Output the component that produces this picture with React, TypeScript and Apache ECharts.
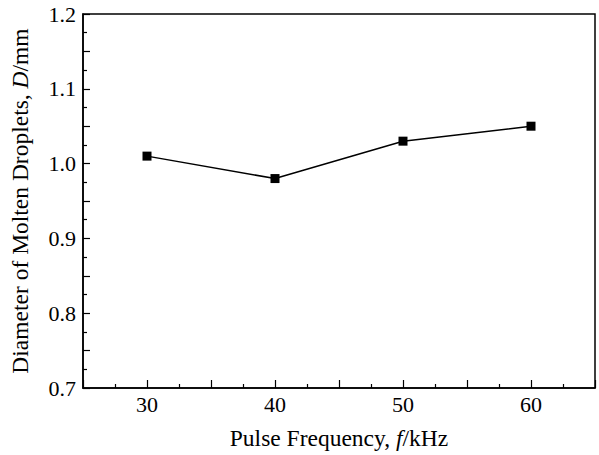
import React, { useEffect, useRef } from "react";
import * as echarts from "echarts";

const frequencies = [30, 40, 50, 60];
const diameters = [1.01, 0.98, 1.03, 1.05];
const xTitle = "Pulse Frequency, ";
const yTitle = "Diameter of Molten Droplets, ";

const FONT = '"Liberation Serif", "Times New Roman", serif';

export default function App() {
  const ref = useRef<HTMLDivElement>(null);
  useEffect(() => {
    if (!ref.current) return;
    const chart = echarts.init(ref.current, undefined, { renderer: "svg" });
    chart.setOption({
      animation: false,
      backgroundColor: "#fff",
      grid: {
        left: 83,
        right: 4,
        top: 14,
        bottom: 65,
        show: true,
        borderColor: "#000",
        borderWidth: 1.5,
        backgroundColor: "transparent",
      },
      xAxis: {
        type: "value",
        min: 25,
        max: 65,
        interval: 5,
        name: "{n|" + xTitle + "}{i|f}{n|/kHz}",
        nameLocation: "middle",
        nameGap: 38,
        nameTextStyle: {
          rich: {
            n: { fontFamily: FONT, fontSize: 23.5, color: "#000" },
            i: { fontFamily: FONT, fontSize: 23.5, color: "#000", fontStyle: "italic" },
          },
        },
        axisLine: { show: true, lineStyle: { color: "#000", width: 1.5 } },
        axisTick: { show: true, inside: true, length: 8, lineStyle: { color: "#000", width: 1.2 } },
        minorTick: { show: true, splitNumber: 2, length: 4, lineStyle: { color: "#000", width: 1.2 } },
        splitLine: { show: false },
        axisLabel: {
          fontFamily: FONT,
          fontSize: 22,
          color: "#000",
          margin: 5,
          formatter: (v: number) => (Math.round(v) % 10 === 0 && v > 25 && v < 65 ? String(v) : ""),
        },
      },
      yAxis: {
        type: "value",
        min: 0.7,
        max: 1.2,
        interval: 0.05,
        name: "{n|" + yTitle + "}{i|D}{n|/mm}",
        nameLocation: "middle",
        nameGap: 51,
        nameRotate: 90,
        nameTextStyle: {
          rich: {
            n: { fontFamily: FONT, fontSize: 23.5, color: "#000" },
            i: { fontFamily: FONT, fontSize: 23.5, color: "#000", fontStyle: "italic" },
          },
        },
        axisLine: { show: true, lineStyle: { color: "#000", width: 1.5 } },
        axisTick: { show: true, inside: true, length: 7, lineStyle: { color: "#000", width: 1.2 } },
        minorTick: { show: true, splitNumber: 2, length: 4, lineStyle: { color: "#000", width: 1.2 } },
        splitLine: { show: false },
        axisLabel: {
          fontFamily: FONT,
          fontSize: 22,
          color: "#000",
          margin: 7,
          formatter: (v: number) => {
            const t = v * 10;
            return Math.abs(t - Math.round(t)) < 1e-6 ? v.toFixed(1) : "";
          },
        },
      },
      series: [
        {
          type: "line",
          data: frequencies.map((f, i) => [f, diameters[i]]),
          symbol: "rect",
          symbolSize: 9,
          itemStyle: { color: "#000" },
          lineStyle: { color: "#000", width: 1.5 },
        },
      ],
    });
    return () => chart.dispose();
  }, []);
  return <div ref={ref} style={{ width: 599, height: 455, position: "absolute", left: 0, top: 0 }} />;
}
